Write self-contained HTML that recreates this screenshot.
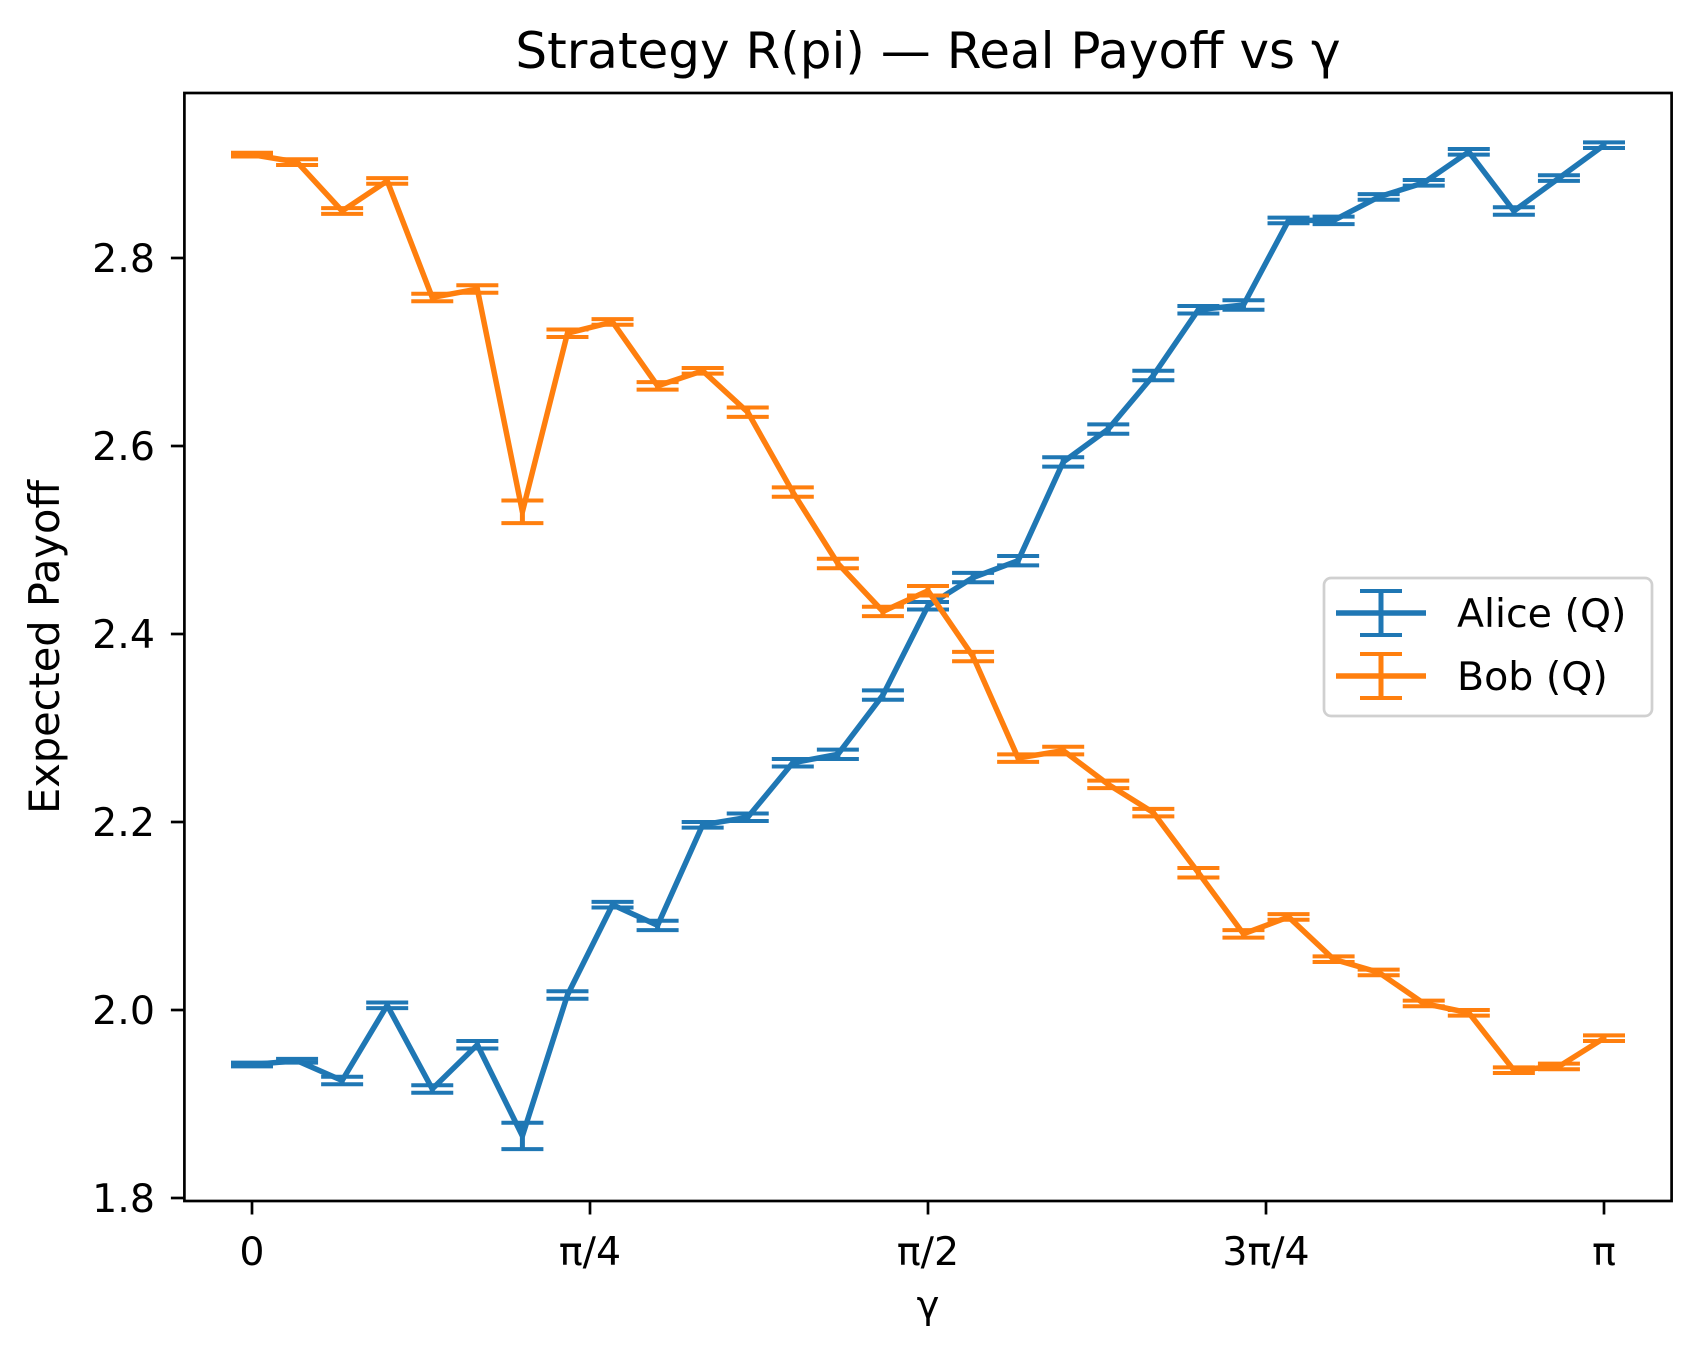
<!DOCTYPE html>
<html><head><meta charset="utf-8"><style>
html,body{margin:0;padding:0;background:#fff;}
svg{display:block;font-family:"DejaVu Sans","Liberation Sans",sans-serif;}
</style></head><body>
<svg id="chart" width="1702" height="1361" viewBox="0 0 1702 1361" xmlns="http://www.w3.org/2000/svg">
<rect x="0" y="0" width="1702" height="1361" fill="#fff"/>
<text x="928" y="68" font-size="50" text-anchor="middle" fill="#000">Strategy R(pi) — Real Payoff vs γ</text>
<g id="plot"></g>
<g id="axes"></g>
<text x="928" y="1318" font-size="38.5" text-anchor="middle" fill="#000">γ</text>
<text transform="translate(59,647) rotate(-90)" font-size="41.5" text-anchor="middle" fill="#000">Expected Payoff</text>
<g>
<rect x="1324" y="578" width="328" height="138" rx="7" fill="#fff" fill-opacity="0.8" stroke="#d0d0d0" stroke-width="2.7"/>
<g>
<line x1="1336" y1="613" x2="1426" y2="613" stroke="#1f77b4" stroke-width="5.5"/>
<line x1="1381" y1="591" x2="1381" y2="635" stroke="#1f77b4" stroke-width="5"/>
<line x1="1360" y1="591" x2="1402" y2="591" stroke="#1f77b4" stroke-width="4"/>
<line x1="1360" y1="635" x2="1402" y2="635" stroke="#1f77b4" stroke-width="4"/>
<text x="1457" y="627" font-size="39.5" fill="#000">Alice (Q)</text>
</g>
<g>
<line x1="1336" y1="676" x2="1426" y2="676" stroke="#ff7f0e" stroke-width="5.5"/>
<line x1="1381" y1="654" x2="1381" y2="698" stroke="#ff7f0e" stroke-width="5"/>
<line x1="1360" y1="654" x2="1402" y2="654" stroke="#ff7f0e" stroke-width="4"/>
<line x1="1360" y1="698" x2="1402" y2="698" stroke="#ff7f0e" stroke-width="4"/>
<text x="1457" y="690" font-size="39.5" fill="#000">Bob (Q)</text>
</g>
</g>
</svg>
<script>
const aliceValues=[1.942,1.946,1.925,2.005,1.916,1.963,1.866,2.016,2.112,2.090,2.197,2.205,2.263,2.272,2.335,2.430,2.460,2.478,2.583,2.618,2.675,2.745,2.750,2.840,2.840,2.865,2.880,2.913,2.850,2.885,2.920];
const aliceErrors=[0.002,0.002,0.004,0.003,0.004,0.004,0.014,0.004,0.003,0.005,0.003,0.004,0.004,0.005,0.005,0.004,0.005,0.005,0.005,0.005,0.005,0.004,0.005,0.003,0.004,0.003,0.003,0.003,0.004,0.003,0.003];
const bobValues=[2.910,2.902,2.850,2.882,2.758,2.767,2.530,2.720,2.732,2.664,2.680,2.636,2.551,2.475,2.424,2.446,2.376,2.268,2.276,2.240,2.210,2.146,2.081,2.099,2.054,2.040,2.007,1.997,1.936,1.940,1.970];
const bobErrors=[0.002,0.003,0.003,0.003,0.004,0.004,0.012,0.004,0.003,0.004,0.003,0.005,0.005,0.005,0.005,0.005,0.005,0.004,0.004,0.004,0.004,0.005,0.004,0.003,0.003,0.003,0.003,0.003,0.003,0.003,0.003];
const xTickLabels=["0","π/4","π/2","3π/4","π"];
const xTickValues=[0,0.25,0.5,0.75,1];
const yTickLabels=["1.8","2.0","2.2","2.4","2.6","2.8"];
const yTickValues=[1.8,2.0,2.2,2.4,2.6,2.8];

const NS="http://www.w3.org/2000/svg";
const L=184.4,R=1671.6,T=93,B=1201;
const x0=252,xPi=1604;
function xs(f){return x0+(xPi-x0)*f;}
function ys(v){return 1198-(v-1.8)/0.2*188;}
function mk(tag,attrs,parent){const e=document.createElementNS(NS,tag);for(const k in attrs)e.setAttribute(k,attrs[k]);parent.appendChild(e);return e;}
const plot=document.getElementById('plot');
const axes=document.getElementById('axes');
const n=aliceValues.length;
function frac(i){return i/(n-1);}

function drawSeries(vals,errs,color,name){
  const g=mk('g',{},plot);
  
  
  for(let i=0;i<vals.length;i++){
    const x=xs(frac(i)),yl=ys(vals[i]-errs[i]),yh=ys(vals[i]+errs[i]);
    const eb=mk('g',{},g);
    
    
    mk('line',{x1:x,y1:yl,x2:x,y2:yh,stroke:color,'stroke-width':5},eb);
    mk('line',{x1:x-21,y1:yl,x2:x+21,y2:yl,stroke:color,'stroke-width':4},eb);
    mk('line',{x1:x-21,y1:yh,x2:x+21,y2:yh,stroke:color,'stroke-width':4},eb);
  }
  const pts=vals.map((v,i)=>xs(frac(i)).toFixed(2)+','+ys(v).toFixed(2)).join(' ');
  const pl=mk('polyline',{points:pts,fill:'none',stroke:color,'stroke-width':5.5,'stroke-linejoin':'round','stroke-linecap':'butt'},g);
  
  
}
drawSeries(aliceValues,aliceErrors,'#1f77b4','alice');
drawSeries(bobValues,bobErrors,'#ff7f0e','bob');

const sp=mk('rect',{x:L,y:T,width:R-L,height:B-T,fill:'none',stroke:'#000','stroke-width':2.7},axes);


xTickValues.forEach((f,i)=>{
  const x=xs(f);
  const t=mk('line',{x1:x,y1:B,x2:x,y2:B+13.5,stroke:'#000','stroke-width':2.7},axes);
  
  
  const lb=mk('text',{x:x,y:1265,'font-size':39.5,'text-anchor':'middle',fill:'#000'},axes);
  lb.textContent=xTickLabels[i];
  
  
});
yTickValues.forEach((v,i)=>{
  const y=ys(v);
  const t=mk('line',{x1:L-13.5,y1:y,x2:L,y2:y,stroke:'#000','stroke-width':2.7},axes);
  
  
  const lb=mk('text',{x:155,y:y+14,'font-size':39.5,'text-anchor':'end',fill:'#000'},axes);
  lb.textContent=yTickLabels[i];
  
  
});
</script>
</body></html>
